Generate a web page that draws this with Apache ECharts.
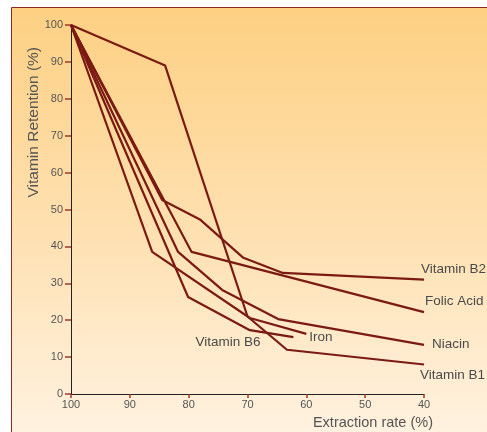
<!DOCTYPE html>
<html>
<head>
<meta charset="utf-8">
<script src="https://cdn.jsdelivr.net/npm/echarts@6/dist/echarts.min.js"></script>
<style>
html,body{margin:0;padding:0;background:#fff;}
#chart{width:487px;height:432px;}
</style>
</head>
<body>
<div id="chart"></div>
<script>
// Extraction rate (%) vs vitamin retention (%)
var vitaminB1 = [[100,100],[84,89],[70,21],[63.3,12],[40,8]];
var vitaminB2 = [[100,100],[84.5,52.6],[78,47.2],[70.7,36.9],[64,32.8],[40,31]];
var folicAcid = [[100,100],[79.5,38.5],[40,22.2]];
var iron = [[100,100],[86.2,38.5],[69.6,20.6],[60,16.3]];
var vitaminB6 = [[100,100],[80.1,26.3],[69.6,17.3],[62.2,15.4]];
var niacin = [[100,100],[81.8,38.5],[74.3,28.2],[64.8,20.3],[40,13.3]];

var xTicks = [100,90,80,70,60,50,40];
var yTicks = [0,10,20,30,40,50,60,70,80,90,100];

var seriesNames = ['Vitamin B1','Vitamin B2','Folic Acid','Iron','Vitamin B6','Niacin'];
var seriesData = [vitaminB1, vitaminB2, folicAcid, iron, vitaminB6, niacin];
var labelOffsets = [[-4,11],[-3,-10],[1,-11],[3,3],[-98,5],[8,-1]];

var lineColor = '#7a1a12';
var textColor = '#555555';
var tickColor = '#a4382c';
var FONT = '"Liberation Sans", Arial, sans-serif';

var chart = echarts.init(document.getElementById('chart'), null, {renderer:'canvas'});

var series = seriesNames.map(function(name, i){
  return {
    name: name,
    type: 'line',
    data: seriesData[i],
    symbol: 'none',
    lineStyle: {color: lineColor, width: 2.2},
    itemStyle: {color: lineColor},
    z: 3,
    endLabel: {
      show: true,
      formatter: name,
      color: '#4a4a4a',
      fontSize: 13.5,
      fontFamily: FONT,
      align: 'left',
      verticalAlign: 'middle',
      distance: 0,
      offset: labelOffsets[i]
    },
    animation: false
  };
});

chart.setOption({
  animation: false,
  backgroundColor: '#ffffff',
  graphic: [
    {
      type: 'rect',
      z: -10,
      shape: {x: 11.5, y: 7.5, width: 500, height: 440},
      style: {
        fill: new echarts.graphic.LinearGradient(0,0,0,1,[
          {offset:0, color:'#fdd083'},
          {offset:0.5, color:'#fee0b0'},
          {offset:1, color:'#fff3e3'}
        ]),
        stroke: '#8e2a20',
        lineWidth: 1
      },
      silent: true
    },
    {
      type: 'text',
      left: 26,
      top: 47,
      rotation: Math.PI/2,
      style: {
        text: 'Vitamin Retention (%)',
        fill: textColor,
        font: '15.5px ' + FONT
      },
      silent: true
    },
    {
      type: 'text',
      right: 54,
      top: 415,
      style: {
        text: 'Extraction rate (%)',
        fill: textColor,
        font: '14.5px ' + FONT
      },
      silent: true
    }
  ],
  grid: {left: 71, right: 63, top: 25, bottom: 38, containLabel: false, outerBoundsMode: 'none'},
  xAxis: {
    type: 'value',
    inverse: true,
    min: 40, max: 100, interval: 10,
    axisLine: {show: true, lineStyle: {color: '#222', width: 1}},
    axisTick: {show: true, length: 4, lineStyle: {color: tickColor, width: 1.5}},
    axisLabel: {color: textColor, fontSize: 11, margin: 5, fontFamily: FONT,
      formatter: function(v){ return xTicks.indexOf(v) >= 0 ? String(v) : ''; }},
    splitLine: {show: false}
  },
  yAxis: {
    type: 'value',
    min: 0, max: 100, interval: 10,
    axisLine: {show: true, lineStyle: {color: '#222', width: 1}},
    axisTick: {show: true, length: 6, lineStyle: {color: tickColor, width: 1.5}},
    axisLabel: {color: textColor, fontSize: 11, margin: 8, fontFamily: FONT,
      formatter: function(v){ return yTicks.indexOf(v) >= 0 ? String(v) : ''; }},
    splitLine: {show: false}
  },
  series: series
});
</script>
</body>
</html>
